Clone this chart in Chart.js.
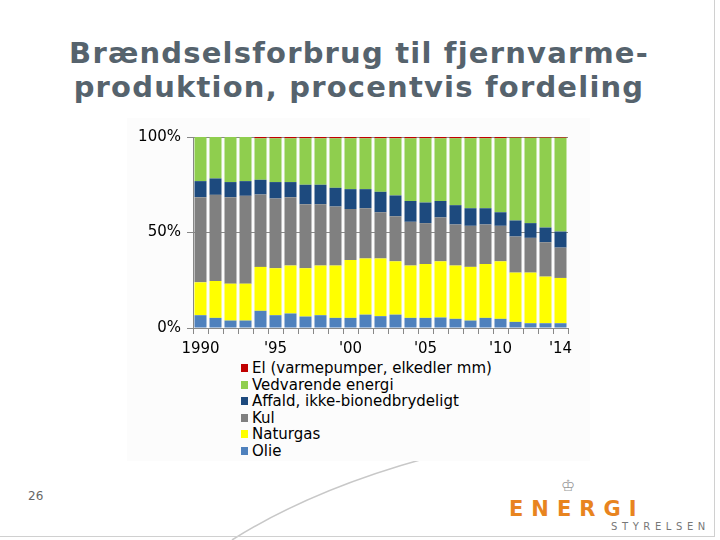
<!DOCTYPE html>
<html>
<head>
<meta charset="utf-8">
<script src="https://cdn.jsdelivr.net/npm/chart.js@4.4.1/dist/chart.umd.min.js"></script>
<style>
  body { margin: 0; background: #fff; }
  #slide { position: relative; width: 720px; height: 540px; overflow: hidden; background: #fff; font-family: "DejaVu Sans", sans-serif; }
  #frame { position: absolute; left: 0; top: 0; width: 714px; height: 536px; border-right: 1px solid #d0d0d0; border-bottom: 1px solid #d0d0d0; }
  #title { position: absolute; left: 0; top: 36px; width: 718px; text-align: center; font-weight: bold; font-size: 29px; line-height: 34px; letter-spacing: 1.2px; color: #56636d; }
  #chartbox { position: absolute; left: 127px; top: 118px; width: 463px; height: 343px; background: #fcfcfc; }
  #chart { position: absolute; left: 127px; top: 118px; }
  #legend { position: absolute; left: 241px; top: 360px; font-size: 15px; line-height: 16.5px; color: #000; }
  #legend div { white-space: nowrap; }
  #legend span.box { display: inline-block; width: 7px; height: 8px; margin-right: 4px; vertical-align: 1px; }
  #page { position: absolute; left: 28px; top: 489px; font-size: 12px; color: #666; }
  #logo { position: absolute; left: 509px; top: 497px; font-family: "DejaVu Sans", sans-serif; font-weight: bold; font-size: 21px; letter-spacing: 8px; color: #e8841f; }
  #logo2 { position: absolute; left: 611px; top: 521px; font-size: 10px; letter-spacing: 4.6px; color: #777; }
  #crown { position: absolute; left: 561px; top: 476px; font-size: 16px; color: #999; }
</style>
</head>
<body>
<div id="slide">
  <svg width="720" height="540" style="position:absolute;left:0;top:0">
    <path d="M 232 540 Q 330 478 480 445" fill="none" stroke="#c8c8c8" stroke-width="1.5"/>
  </svg>
  <div id="frame"></div>
  <div id="title">Brændselsforbrug til fjernvarme-<br>produktion, procentvis fordeling</div>
  <div id="chartbox"></div>
  <canvas id="chart" width="463" height="238"></canvas>
  <div id="legend"></div>
  <div id="page">26</div>
  <div id="crown">♔</div>
  <div id="logo">ENERGI</div>
  <div id="logo2">STYRELSEN</div>
</div>
<script>
'use strict';

// DATA (percent of fuel use for district heating)
var years = ['1990', '1991', '1992', '1993', '1994', '1995', '1996', '1997', '1998', '1999', '2000', '2001', '2002',
  '2003', '2004', '2005', '2006', '2007', '2008', '2009', '2010', '2011', '2012', '2013', '2014'];
var tickLabels = ['1990', '', '', '', '', "'95", '', '', '', '', "'00", '', '', '', '', "'05", '', '', '', '', "'10", '', '', '', "'14"];
var olie = [6.7, 5.3, 3.9, 3.9, 9.0, 6.7, 7.6, 6.0, 6.7, 5.3, 5.3, 7.0, 6.2, 7.0, 5.3, 5.3, 5.5, 4.8, 3.9, 5.3, 4.8, 3.2, 2.5, 2.5, 2.5];
var naturgas = [17.2, 19.3, 19.3, 19.3, 23.0, 24.6, 25.1, 25.3, 26.0, 27.4, 30.3, 29.4, 30.2, 27.9, 27.4, 28.2, 29.4, 27.9, 28.1, 28.2, 30.1, 25.8, 26.5, 24.4, 23.7];
var kul = [44.6, 45.1, 45.3, 46.0, 37.9, 36.5, 35.8, 33.5, 32.1, 30.9, 26.7, 26.3, 24.2, 23.6, 22.9, 21.4, 23.0, 21.5, 21.5, 20.7, 18.6, 18.9, 18.2, 18.0, 15.9];
var affald = [8.4, 8.6, 7.9, 7.7, 7.7, 8.6, 7.9, 10.2, 10.2, 9.8, 10.4, 10.0, 10.7, 10.9, 10.9, 10.8, 8.6, 10.1, 9.2, 8.5, 7.1, 8.4, 7.7, 7.7, 8.4];
var vedvarende = [23.1, 21.7, 23.6, 23.1, 21.7, 22.9, 22.9, 24.3, 24.3, 25.9, 26.6, 26.6, 28.0, 29.9, 32.8, 33.6, 32.8, 35.0, 36.6, 36.6, 38.7, 43.3, 44.7, 47.0, 49.1];
var el = [0, 0, 0, 0, 0.7, 0.7, 0.7, 0.7, 0.7, 0.7, 0.7, 0.7, 0.7, 0.7, 0.7, 0.7, 0.7, 0.7, 0.7, 0.7, 0.7, 0.4, 0.4, 0.4, 0.4];
var yTicks = [0, 50, 100];

// SERIES (bottom to top)
var datasets = [
  { label: 'Olie', data: olie, backgroundColor: '#4f81bd' },
  { label: 'Naturgas', data: naturgas, backgroundColor: '#ffff00' },
  { label: 'Kul', data: kul, backgroundColor: '#808080' },
  { label: 'Affald, ikke-bionedbrydeligt', data: affald, backgroundColor: '#1d4a7e' },
  { label: 'Vedvarende energi', data: vedvarende, backgroundColor: '#8fce4e' },
  { label: 'El (varmepumper, elkedler mm)', data: el, backgroundColor: '#c00000' }
];

Chart.defaults.font.family = '"DejaVu Sans", sans-serif';
Chart.defaults.font.size = 15;
Chart.defaults.color = '#000';

var ctx = document.getElementById('chart');
var myChart = new Chart(ctx, {
  type: 'bar',
  data: { labels: years, datasets: datasets },
  options: {
    responsive: false,
    animation: false,
    layout: { padding: { top: 19, right: 22, left: 0, bottom: 0 } },
    datasets: { bar: { barPercentage: 0.8, categoryPercentage: 1.0 } },
    plugins: { legend: { display: false }, tooltip: { enabled: false } },
    scales: {
      x: {
        stacked: true,
        grid: { drawOnChartArea: false, drawTicks: true, tickLength: 6, color: '#888' },
        border: { color: '#888' },
        ticks: {
          autoSkip: false, maxRotation: 0, padding: 6,
          callback: function (v, i) { return tickLabels[i]; }
        },
        afterFit: function (scale) { scale.height = 28; }
      },
      y: {
        stacked: true,
        min: 0, max: 100,
        grid: { color: '#888', tickLength: 6 },
        border: { color: '#888' },
        ticks: { padding: 6, callback: function (v) { return v + '%'; } },
        afterBuildTicks: function (scale) { scale.ticks = yTicks.map(function (v) { return { value: v }; }); },
        afterFit: function (scale) { scale.width = 66; }
      }
    }
  }
});

// LEGEND (top series first)
var legend = document.getElementById('legend');
for (var i = datasets.length - 1; i >= 0; i--) {
  var row = document.createElement('div');
  var box = document.createElement('span');
  box.className = 'box';
  box.style.background = datasets[i].backgroundColor;
  row.appendChild(box);
  row.appendChild(document.createTextNode(datasets[i].label));
  legend.appendChild(row);
}
</script>
</body>
</html>
